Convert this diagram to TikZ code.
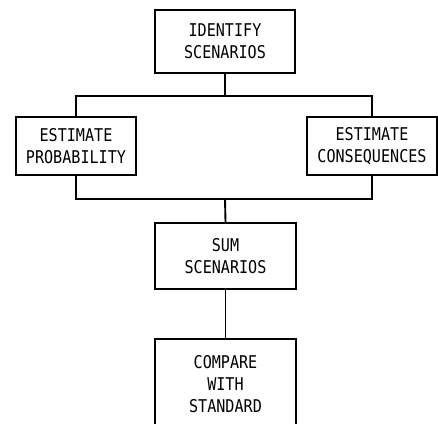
\documentclass[tikz,border=0pt]{standalone}
\usepackage{fontspec}
\setmonofont[FakeStretch=0.86]{DejaVu Sans Mono}
\usepackage{tikz}
\usetikzlibrary{positioning,calc}

\begin{document}
\begin{tikzpicture}[
        x=0.03cm, y=0.03cm,
        stepbox/.style={draw=black, line width=1.6pt, rectangle, align=center, inner sep=0pt, font=\fontsize{15}{18.7}\selectfont\ttfamily},
        link/.style={line width=1.6pt, color=black}
    ]
        \useasboundingbox (0,0) rectangle (438,424);
        \clip (0,0) rectangle (438,424);

        % Boxes
        \node[stepbox, minimum width=4.2cm, minimum height=1.89cm] (ident) at (225,382.5) {IDENTIFY\\SCENARIOS};
        \node[stepbox, minimum width=3.6cm, minimum height=1.74cm] (prob) at (76,278) {ESTIMATE\\PROBABILITY};
        \node[stepbox, minimum width=3.9cm, minimum height=1.74cm] (cons) at (372,278) {ESTIMATE\\CONSEQUENCES};
        \node[stepbox, minimum width=4.23cm, minimum height=1.98cm] (sum) at (225.5,168) {SUM\\SCENARIOS};
        \node[stepbox, minimum width=4.23cm, minimum height=2.7cm] (compare) at (225.5,40) {COMPARE\\WITH\\STANDARD};

        % Split and join
        \coordinate (split) at (225,328);
        \coordinate (join) at (225,225);
        \draw[link] (ident.south) -- (split);
        \draw[link] (prob.north) |- (split) -| (cons.north);
        \draw[link] (prob.south) |- (join) -| (cons.south);
        \draw[link] (join) -- (sum.north);
        \draw[link] (sum.south) -- (compare.north);
    \end{tikzpicture}
\end{document}
